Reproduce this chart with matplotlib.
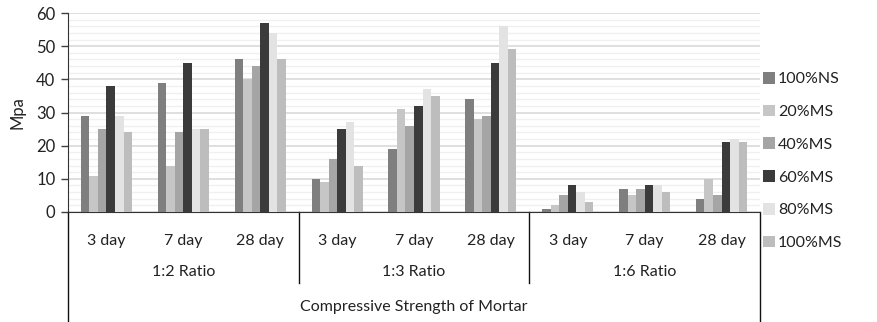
import numpy as np
import matplotlib.pyplot as plt

plt.rcParams['font.family'] = ['Lato', 'DejaVu Sans']

ratios = ['1:2 Ratio', '1:3 Ratio', '1:6 Ratio']
days = ['3 day', '7 day', '28 day']
series = ['100%NS', '20%MS', '40%MS', '60%MS', '80%MS', '100%MS']
colors = ['#7f7f7f', '#c6c6c6', '#a5a5a5', '#3b3b3b', '#e3e3e3', '#bdbdbd']

# one row per mix, 9 values: (1:2, 1:3, 1:6) x (3, 7, 28 day)
ns100 = [29, 39, 46, 10, 19, 34, 1, 7, 4]
ms20 = [11, 14, 40, 9, 31, 28, 2, 5, 10]
ms40 = [25, 24, 44, 16, 26, 29, 5, 7, 5]
ms60 = [38, 45, 57, 25, 32, 45, 8, 8, 21]
ms80 = [29, 25, 54, 27, 37, 56, 6, 8, 22]
ms100 = [24, 25, 46, 14, 35, 49, 3, 6, 21]
values = [ns100, ms20, ms40, ms60, ms80, ms100]

fig = plt.figure(figsize=(8.77, 3.22), dpi=100)
W, H = 877, 322
x0, x1, y0, y1 = 68, 760, 212, 13
ax = fig.add_axes([x0 / W, 1 - y0 / H, (x1 - x0) / W, (y0 - y1) / H])

n = len(ratios) * len(days)
x = np.arange(n)
bw = 0.111
for i, (name, vals, c) in enumerate(zip(series, values, colors)):
    ax.bar(x + (i - 2.5) * bw, vals, bw, color=c, label=name, zorder=3)

ax.set_xlim(-0.5, n - 0.5)
ax.set_ylim(0, 60)
ax.set_yticks(range(0, 61, 10))
ax.set_yticks(range(0, 61, 2), minor=True)
ax.grid(axis='y', which='major', color='#d9d9d9', lw=1.2, zorder=0)
ax.grid(axis='y', which='minor', color='#f0f0f0', lw=1.0, zorder=0)
ax.tick_params(axis='y', which='major', length=5, width=1, color='#404040',
               labelsize=12, labelcolor='#222222', pad=4)
ax.tick_params(axis='y', which='minor', length=0)
ax.set_xticks([])
for s in ['top', 'right']:
    ax.spines[s].set_visible(False)
ax.spines['left'].set_color('#333333')
ax.spines['bottom'].set_color('#333333')
ax.set_ylabel('Mpa', fontsize=12, color='#222222', labelpad=8)

# multi-level category axis below the plot
tr = ax.get_xaxis_transform()
px = 1.0 / (y0 - y1)
lc = '#111111'
for xv in [-0.5, n - 0.5]:
    ax.plot([xv, xv], [0, -(322 - y0) * px], color=lc, lw=1, transform=tr, clip_on=False)
for xv in [2.5, 5.5]:
    ax.plot([xv, xv], [0, -(283 - y0) * px], color=lc, lw=1, transform=tr, clip_on=False)
for k in range(n):
    ax.text(k, -(241 - y0) * px, days[k % 3], transform=tr, ha='center', va='center',
            fontsize=11.5, color='#222222')
for j, r in enumerate(ratios):
    ax.text(j * 3 + 1, -(272 - y0) * px, r, transform=tr, ha='center', va='center',
            fontsize=11.5, color='#222222')
ax.text((n - 1) / 2, -(307 - y0) * px, 'Compressive Strength of Mortar', transform=tr,
        ha='center', va='center', fontsize=11.5, color='#222222')

fig.legend(loc='center left', bbox_to_anchor=(758 / W, 1 - 161 / H), frameon=False,
           fontsize=11.5, handlelength=0.75, handleheight=0.75, handletextpad=0.2,
           labelspacing=1.15, borderaxespad=0, borderpad=0.3, labelcolor='#222222')

fig.savefig('out.png', dpi=100)
